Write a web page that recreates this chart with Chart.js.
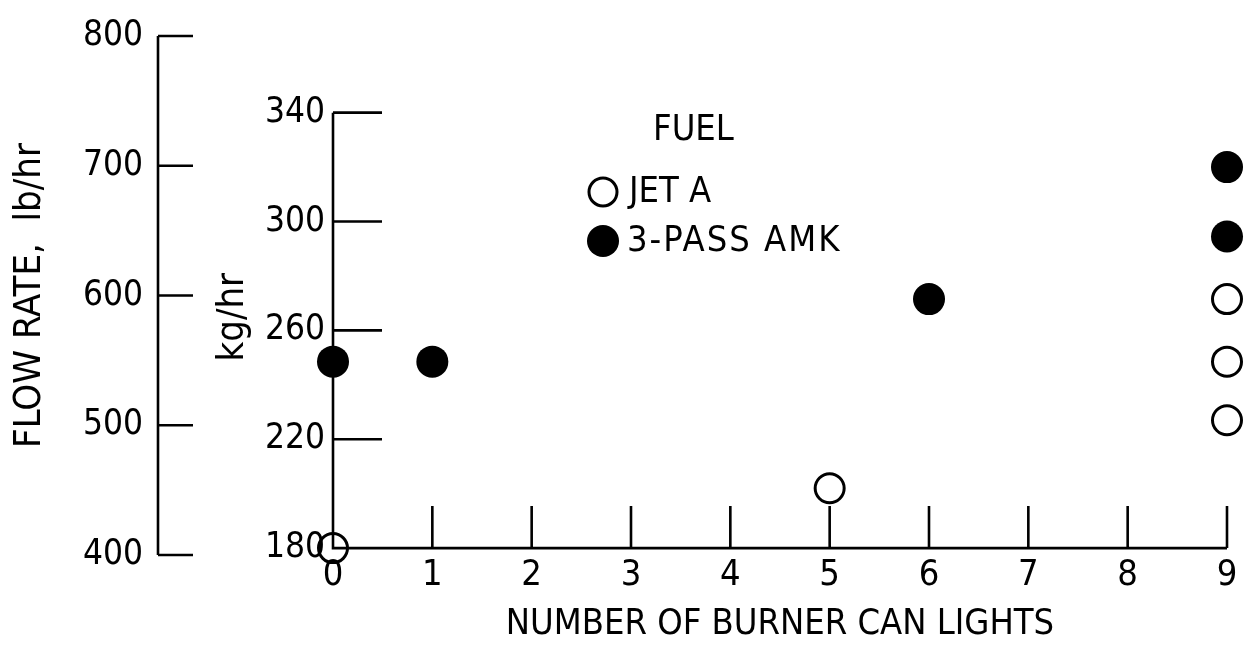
<!DOCTYPE html>
<html>
<head>
<meta charset="utf-8">
<script src="https://cdn.jsdelivr.net/npm/chart.js@4.4.1/dist/chart.umd.min.js"></script>
<style>
    html, body { margin: 0; padding: 0; background: #fff; }
    #wrap { position: relative; width: 1252px; height: 647px; }
</style>
</head>
<body>
<div id="wrap"><canvas id="chart"></canvas></div>
<script>
// Debit combustibil (kg/hr) in functie de numarul de camere aprinse
const jetAX  = [0, 5, 9, 9, 9];
const jetAKg = [180, 202, 271.5, 248.5, 227];
const amkX   = [0, 1, 6, 9, 9];
const amkKg  = [248.5, 248.5, 271.5, 320, 294.5];

// Etichete axe
const xTicks  = [0, 1, 2, 3, 4, 5, 6, 7, 8, 9];
const kgTicks = [180, 220, 260, 300, 340];
const lbTicks = [400, 500, 600, 700, 800];

const FONT = "'Liberation Sans Narrow', 'DejaVu Sans Condensed', 'Liberation Sans', sans-serif";

const toPoints = (xs, ys) => xs.map((x, i) => ({ x: x, y: ys[i] }));
const fixTicks = (list) => (scale) => { scale.ticks = list.map(v => ({ value: v })); };

// Liniile de axa si tick-urile sunt desenate spre interior (ca in figura originala)
const axisMarks = {
    id: 'axisMarks',
    beforeDatasetsDraw(chart) {
        const { ctx, scales: { x, kg, lb } } = chart;
        const x0 = x.getPixelForValue(0);
        const x9 = x.getPixelForValue(xTicks[xTicks.length - 1]);
        const yBase = kg.getPixelForValue(kgTicks[0]);
        const yTop = kg.getPixelForValue(kgTicks[kgTicks.length - 1]);
        const lx = lb.right;

        ctx.save();
        ctx.strokeStyle = '#000';
        ctx.lineWidth = 2.6;
        ctx.beginPath();
        // axa kg + axa x
        ctx.moveTo(x0, yTop);
        ctx.lineTo(x0, yBase);
        ctx.lineTo(x9, yBase);
        kgTicks.forEach(v => {
            const p = kg.getPixelForValue(v);
            ctx.moveTo(x0, p);
            ctx.lineTo(x0 + 49, p);
        });
        xTicks.forEach(v => {
            if (v === 0) return;
            const p = x.getPixelForValue(v);
            ctx.moveTo(p, yBase);
            ctx.lineTo(p, yBase - 42);
        });
        // axa lb/hr
        ctx.moveTo(lx, lb.getPixelForValue(lbTicks[lbTicks.length - 1]));
        ctx.lineTo(lx, lb.getPixelForValue(lbTicks[0]));
        lbTicks.forEach(v => {
            const p = lb.getPixelForValue(v);
            ctx.moveTo(lx, p);
            ctx.lineTo(lx + 35, p);
        });
        ctx.stroke();
        ctx.restore();
    }
};

// Legenda "FUEL" din interiorul graficului
const fuelLegend = {
    id: 'fuelLegend',
    afterDatasetsDraw(chart) {
        const { ctx } = chart;
        ctx.save();
        ctx.fillStyle = '#000';
        ctx.strokeStyle = '#000';
        ctx.textBaseline = 'middle';
        ctx.textAlign = 'left';
        ctx.font = `36px ${FONT}`;
        ctx.fillText('FUEL', 653, 131);
        ctx.fillText('JET A', 629, 193);
        ctx.letterSpacing = '2px';
        ctx.fillText('3-PASS AMK', 627, 242);

        ctx.lineWidth = 3;
        ctx.beginPath();
        ctx.arc(603, 192, 14, 0, Math.PI * 2);
        ctx.stroke();
        ctx.beginPath();
        ctx.arc(603, 241, 16, 0, Math.PI * 2);
        ctx.fill();
        ctx.restore();
    }
};

new Chart(document.getElementById('chart'), {
    type: 'scatter',
    data: {
        datasets: [
            {
                label: 'JET A',
                data: toPoints(jetAX, jetAKg),
                yAxisID: 'kg',
                pointRadius: 14.5,
                pointBorderWidth: 3,
                pointBorderColor: '#000',
                pointBackgroundColor: 'rgba(0,0,0,0)',
                clip: false,
            },
            {
                label: '3-PASS AMK',
                data: toPoints(amkX, amkKg),
                yAxisID: 'kg',
                pointRadius: 16,
                pointBorderWidth: 0,
                pointBackgroundColor: '#000',
                clip: false,
            },
        ],
    },
    options: {
        responsive: true,
        maintainAspectRatio: false,
        animation: false,
        events: [],
        layout: { padding: { top: 27, right: 25, bottom: 0, left: 0 } },
        plugins: { legend: { display: false }, tooltip: { enabled: false } },
        scales: {
            x: {
                type: 'linear',
                position: 'bottom',
                min: 0,
                max: 9,
                afterBuildTicks: fixTicks(xTicks),
                afterFit: (s) => { s.height = 92; },
                grid: { display: false, drawTicks: false },
                border: { display: false },
                ticks: { color: '#000', padding: 3, maxRotation: 0, autoSkip: false, font: { family: FONT, size: 36, lineHeight: 1 } },
                title: {
                    display: true,
                    text: 'NUMBER OF BURNER CAN LIGHTS',
                    color: '#000',
                    font: { family: FONT, size: 36, lineHeight: 1 },
                    padding: { top: 0, bottom: 4 },
                },
            },
            kg: {
                type: 'linear',
                position: 'left',
                weight: 0,
                min: 177.47,
                max: 368.17,
                afterBuildTicks: fixTicks(kgTicks),
                afterFit: (s) => { s.width = 175; },
                grid: { display: false, drawTicks: false },
                border: { display: false },
                ticks: { color: '#000', padding: 8, font: { family: FONT, size: 35 } },
                title: {
                    display: true,
                    text: 'kg/hr    ',
                    color: '#000',
                    font: { family: FONT, size: 38, lineHeight: 1 },
                    padding: { top: 56, bottom: 0 },
                },
            },
            lb: {
                type: 'linear',
                position: 'left',
                weight: 1,
                min: 400,
                max: 800,
                afterBuildTicks: fixTicks(lbTicks),
                afterFit: (s) => { s.width = 158; },
                grid: { display: false, drawTicks: false },
                border: { display: false },
                ticks: { color: '#000', padding: 15, font: { family: FONT, size: 35 } },
                title: {
                    display: true,
                    text: 'FLOW RATE,  lb/hr',
                    color: '#000',
                    font: { family: FONT, size: 38, lineHeight: 1 },
                    padding: { top: 11, bottom: 0 },
                },
            },
        },
    },
    plugins: [axisMarks, fuelLegend],
});
</script>
</body>
</html>
